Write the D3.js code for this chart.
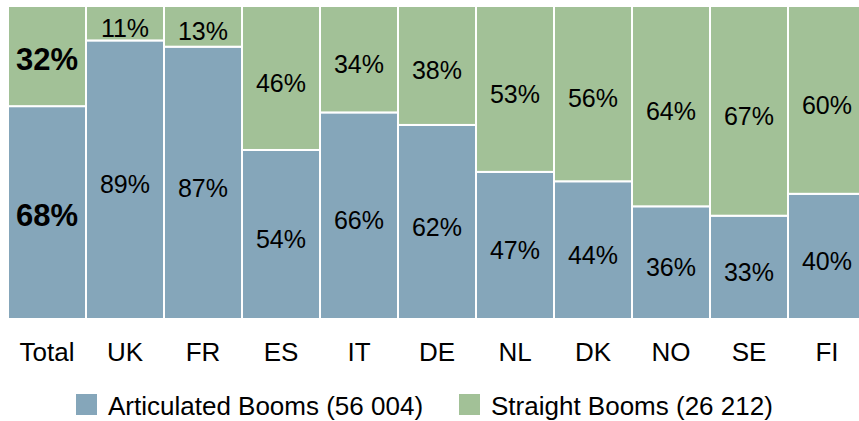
<!DOCTYPE html>
<html>
<head>
<meta charset="utf-8">
<script src="https://cdn.jsdelivr.net/npm/d3@7"></script>
<style>
  body { margin: 0; background: #fff; overflow: hidden; }
  text { font-family: "Liberation Sans", Arial, sans-serif; }
</style>
</head>
<body>
<div id="chart"></div>
<script>
// data
const categories = ["Total", "UK", "FR", "ES", "IT", "DE", "NL", "DK", "NO", "SE", "FI"];
const articulated = [68, 89, 87, 54, 66, 62, 47, 44, 36, 33, 40];
const straight = [32, 11, 13, 46, 34, 38, 53, 56, 64, 67, 60];
const seriesNames = ["Articulated Booms (56 004)", "Straight Booms (26 212)"];
const colors = ["#85a6ba", "#a2c197"];

const width = 859, height = 421;

const svg = d3.select("#chart").append("svg")
  .attr("width", width)
  .attr("height", height);

const x = d3.scaleBand()
  .domain(categories)
  .range([8, 8 + categories.length * 78])
  .padding(0);

const y = d3.scaleLinear()
  .domain([0, 100])
  .range([319, 6]);

// stack the two series
const rows = categories.map((c, i) => ({cat: c, a: articulated[i], s: straight[i]}));
const stack = d3.stack().keys(["a", "s"]);
const layers = stack(rows);

const g = svg.append("g");
layers.forEach((layer, li) => {
  g.selectAll(".bar-" + li)
    .data(layer)
    .enter()
    .append("rect")
      .attr("class", "bar-" + li)
      .attr("x", d => x(d.data.cat))
      .attr("width", x.bandwidth())
      .attr("y", d => y(d[1]))
      .attr("height", d => y(d[0]) - y(d[1]))
      .attr("fill", colors[li])
      .attr("stroke", "#fff")
      .attr("stroke-width", 2);

  g.selectAll(".lbl-" + li)
    .data(layer)
    .enter()
    .append("text")
      .attr("x", d => x(d.data.cat) + x.bandwidth() / 2)
      .attr("y", d => (y(d[0]) + y(d[1])) / 2 + (d.data.cat == "Total" ? 3 : 5))
      .attr("dy", "0.35em")
      .attr("text-anchor", "middle")
      .attr("fill", "#000")
      .attr("font-size", d => d.data.cat == "Total" ? 31 : 25)
      .attr("font-weight", d => d.data.cat == "Total" ? "bold" : "normal")
      .text(d => (d[1] - d[0]) + "%");
});

// category axis
const xAxis = svg.append("g")
  .attr("transform", "translate(0,319)")
  .call(d3.axisBottom(x).tickSize(0).tickPadding(24));
xAxis.select(".domain").remove();
xAxis.selectAll("text")
  .attr("font-size", 26)
  .attr("fill", "#000")
  .attr("font-family", "Liberation Sans, Arial, sans-serif");

// legend
const legendX = [76, 459];
const legend = svg.append("g");
seriesNames.forEach((name, i) => {
  legend.append("rect")
    .attr("x", legendX[i])
    .attr("y", 394)
    .attr("width", 21)
    .attr("height", 21)
    .attr("fill", colors[i]);
  legend.append("text")
    .attr("x", legendX[i] + 32)
    .attr("y", 415)
    .attr("font-size", 26)
    .attr("fill", "#000")
    .text(name);
});
</script>
</body>
</html>
